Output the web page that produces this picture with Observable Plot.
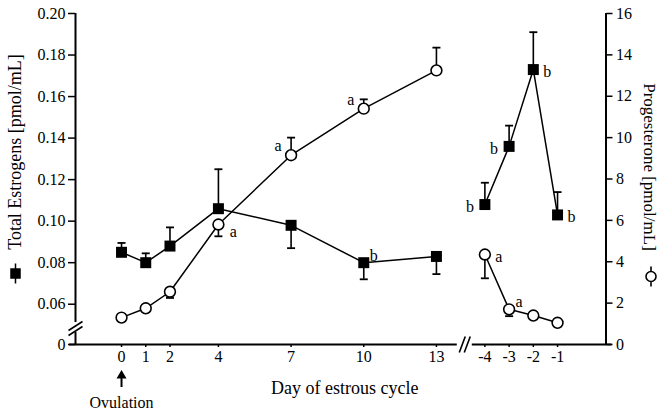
<!DOCTYPE html>
<html>
<head>
<meta charset="utf-8">
<script src="https://cdn.jsdelivr.net/npm/d3@7"></script>
<script src="https://cdn.jsdelivr.net/npm/@observablehq/plot@0.6"></script>
<style>
  html, body { margin: 0; padding: 0; background: #fff; }
  #chart svg { display: block; overflow: visible; }
  #chart svg text { font-family: 'Liberation Serif', 'Times New Roman', serif; font-variant: normal; }
</style>
</head>
<body>
<div id="chart"></div>
<script>
// ---------------- data ----------------
const daysAfter = [0, 1, 2, 4, 7, 10, 13];
const daysBefore = [-4, -3, -2, -1];

const estrogenAfter = [0.085, 0.080, 0.088, 0.106, 0.098, 0.080, 0.083];
const estrogenAfterErr = [0.0045, 0.0045, 0.009, 0.019, -0.011, -0.008, -0.0085];
const estrogenBefore = [0.108, 0.136, 0.173, 0.103];
const estrogenBeforeErr = [0.0105, 0.010, 0.018, 0.011];

const progAfter = [1.3, 1.75, 2.55, 5.8, 9.15, 11.4, 13.25];
const progAfterErr = [0, 0, -0.3, -0.57, 0.85, 0.45, 1.1];
const progBefore = [4.35, 1.7, 1.4, 1.05];
const progBeforeErr = [-1.15, -0.33, 0, 0];

const estrogenAfterSig = ["", "", "", "", "", "b", ""];
const estrogenBeforeSig = ["b", "b", "b", "b"];
const progAfterSig = ["", "", "", "a", "a", "a", ""];
const progBeforeSig = ["a", "a", "", ""];

const xTickDays = [0, 1, 2, 4, 7, 10, 13, -4, -3, -2, -1];
const xTickLabels = ["0", "1", "2", "4", "7", "10", "13", "-4", "-3", "-2", "-1"];
const estTicks = [0, 0.06, 0.08, 0.10, 0.12, 0.14, 0.16, 0.18, 0.20];
const estTickLabels = ["0", "0.06", "0.08", "0.10", "0.12", "0.14", "0.16", "0.18", "0.20"];
const progTicks = [0, 2, 4, 6, 8, 10, 12, 14, 16];
const progTickLabels = ["0", "2", "4", "6", "8", "10", "12", "14", "16"];

const xTitle = "Day of estrous cycle";
const yLeftTitle = "Total Estrogens [pmol/mL]";
const yRightTitle = "Progesterone [pmol/mL]";
const ovulationLabel = "Ovulation";

// ---------------- broken-axis geometry ----------------
const dayShift = 19;                 // days before ovulation drawn after the x break
const xPos = d => d >= 0 ? d : d + dayShift;
const xMin = -1.9, xMax = 20;
const xGap = [13.86, 14.48];
const yMin = 0.0406, yMax = 0.20;    // "0" on the left axis sits at yMin (broken axis)
const yGap = [0.0464, 0.0512];
const estY = v => v === 0 ? yMin : v;
const progY = p => yMin + p * (yMax - yMin) / 16;

function build(series, days, vals, errs, sigs) {
  return days.map((d, i) => {
    const f = series === "E" ? estY : progY;
    return {
      series, day: d, pos: xPos(d), seg: d >= 0 ? "after" : "before",
      y: f(vals[i]), err: errs[i], yErr: f(vals[i] + errs[i]), sig: sigs[i]
    };
  });
}
const estRows = [...build("E", daysAfter, estrogenAfter, estrogenAfterErr, estrogenAfterSig),
                 ...build("E", daysBefore, estrogenBefore, estrogenBeforeErr, estrogenBeforeSig)];
const progRows = [...build("P", daysAfter, progAfter, progAfterErr, progAfterSig),
                  ...build("P", daysBefore, progBefore, progBeforeErr, progBeforeSig)];
const allRows = [...estRows, ...progRows];

// placement of significance letters (style)
const sigSide = {
  "E10": "ur", "E-4": "l", "E-3": "l", "E-2": "r", "E-1": "r",
  "P4": "lr", "P7": "ul", "P10": "ul", "P-4": "r", "P-3": "ur"
};
const sideOffset = {r: [14, 2], l: [-15, 2], ur: [10, -7], ul: [-13, -9], lr: [15, 7]};

// ---------------- custom symbols ----------------
const capSymbol = {draw(c) { c.moveTo(-4, 0); c.lineTo(4, 0); }};
const xBreakSymbol = {draw(c) {
  c.moveTo(-5.5, 8); c.lineTo(0.5, -8);
  c.moveTo(-0.5, 8); c.lineTo(5.5, -8);
}};
const yBreakSymbol = {draw(c) {
  c.moveTo(-7, 3); c.lineTo(7, -6);
  c.moveTo(-7, 8); c.lineTo(7, -1);
}};
const squareBarSymbol = {draw(c) {
  c.moveTo(0, -10); c.lineTo(0, 10);
  c.moveTo(-4.5, -4.5); c.lineTo(4.5, -4.5); c.lineTo(4.5, 4.5); c.lineTo(-4.5, 4.5); c.closePath();
}};
const circleBarSymbol = {draw(c) {
  c.moveTo(0, -10); c.lineTo(0, -5);
  c.moveTo(0, 5); c.lineTo(0, 10);
  c.moveTo(5, 0); c.arc(0, 0, 5, 0, 2 * Math.PI);
}};
const arrowSymbol = {draw(c) {
  c.moveTo(0, -8.5); c.lineTo(5, 0); c.lineTo(1, 0); c.lineTo(1, 8.5);
  c.lineTo(-1, 8.5); c.lineTo(-1, 0); c.lineTo(-5, 0); c.closePath();
}};

const FONT = "'Liberation Serif', 'Times New Roman', serif";

const errRows = allRows.filter(d => d.err !== 0);
const sigMarks = Object.entries(sideOffset).map(([k, [dx, dy]]) =>
  Plot.text(allRows.filter(d => d.sig && sigSide[d.series + d.day] === k),
    {x: "pos", y: "y", text: "sig", dx, dy, fontSize: 16, fill: "black", fontFamily: FONT}));

const chart = Plot.plot({
  width: 660, height: 410,
  marginLeft: 75, marginRight: 54.5, marginTop: 13, marginBottom: 66,
  style: {fontFamily: FONT, background: "white", color: "black"},
  x: {type: "linear", domain: [xMin, xMax], axis: null},
  y: {type: "linear", domain: [yMin, yMax], axis: null},
  marks: [
    // axis lines (with breaks)
    Plot.ruleY([{y: yMin, x1: xMin - 0.25, x2: xGap[0]}, {y: yMin, x1: xGap[1], x2: xMax + 0.25}],
      {y: "y", x1: "x1", x2: "x2", stroke: "black", strokeWidth: 2}),
    Plot.ruleX([{x: xMin, y1: yMin, y2: yGap[0]}, {x: xMin, y1: yGap[1], y2: yMax}],
      {x: "x", y1: "y1", y2: "y2", stroke: "black", strokeWidth: 2}),
    Plot.ruleX([xMax], {y1: yMin, y2: yMax, stroke: "black", strokeWidth: 2}),
    Plot.dot([(xGap[0] + xGap[1]) / 2], {x: d => d, y: yMin, symbol: xBreakSymbol, stroke: "black", strokeWidth: 1.6, fill: "none"}),
    Plot.dot([(yGap[0] + yGap[1]) / 2], {x: xMin, y: d => d, symbol: yBreakSymbol, stroke: "black", strokeWidth: 1.6, fill: "none"}),
    // axes
    Plot.axisX({anchor: "bottom", ticks: xTickDays.map(xPos),
      tickFormat: d => xTickLabels[xTickDays.map(xPos).indexOf(d)],
      tickSize: 3, tickPadding: 3, fontSize: 16, fontFamily: FONT, label: null, stroke: "black", strokeWidth: 1.5}),
    Plot.axisY({anchor: "left", ticks: estTicks.map(estY),
      tickFormat: d => estTickLabels[estTicks.map(estY).indexOf(d)],
      tickSize: 7, tickPadding: 3, fontSize: 16, fontFamily: FONT, label: null, stroke: "black", strokeWidth: 1.5}),
    Plot.axisY({anchor: "right", ticks: progTicks.map(progY),
      tickFormat: d => progTickLabels[progTicks.map(progY).indexOf(d)],
      tickSize: 6, tickPadding: 4, fontSize: 16, fontFamily: FONT, label: null, stroke: "black", strokeWidth: 1.5}),
    // series lines
    Plot.line(allRows, {x: "pos", y: "y", z: d => d.series + d.seg, stroke: "black", strokeWidth: 1.5}),
    // error bars
    Plot.ruleX(errRows, {x: "pos", y1: "y", y2: "yErr", stroke: "black", strokeWidth: 1.6}),
    Plot.dot(errRows, {x: "pos", y: "yErr", symbol: capSymbol, stroke: "black", strokeWidth: 1.8}),
    // markers
    Plot.dot(progRows, {x: "pos", y: "y", r: 5.4, fill: "white", stroke: "black", strokeWidth: 1.6}),
    Plot.dot(estRows, {x: "pos", y: "y", symbol: "square", r: 6.2, fill: "black"}),
    // significance letters
    ...sigMarks,
    // titles
    Plot.text([xTitle], {text: d => d, frameAnchor: "bottom", textAnchor: "middle", lineAnchor: "middle",
      dx: 4, dy: 44, fontSize: 18, fill: "black", fontFamily: FONT}),
    Plot.text([yLeftTitle], {text: d => d, frameAnchor: "left", textAnchor: "middle", lineAnchor: "middle",
      rotate: -90, dx: -60, dy: -27, fontSize: 18, fill: "black", fontFamily: FONT}),
    Plot.text([yRightTitle], {text: d => d, frameAnchor: "right", textAnchor: "middle", lineAnchor: "middle",
      rotate: 90, dx: 43.5, dy: -12, fontSize: 17, fill: "black", fontFamily: FONT}),
    Plot.dot([0], {frameAnchor: "bottom-left", dx: -60, dy: -71, symbol: squareBarSymbol, fill: "black", stroke: "black", strokeWidth: 1.5}),
    Plot.dot([0], {frameAnchor: "bottom-right", dx: 45, dy: -68, symbol: circleBarSymbol, fill: "none", stroke: "black", strokeWidth: 1.6}),
    // ovulation annotation
    Plot.dot([0], {x: d => xPos(d), y: yMin, dy: 34, symbol: arrowSymbol, fill: "black"}),
    Plot.text([ovulationLabel], {x: xPos(0), y: yMin, text: d => d, dy: 58, fontSize: 16, fill: "black", fontFamily: FONT})
  ]
});
document.getElementById("chart").appendChild(chart);
</script>
</body>
</html>
